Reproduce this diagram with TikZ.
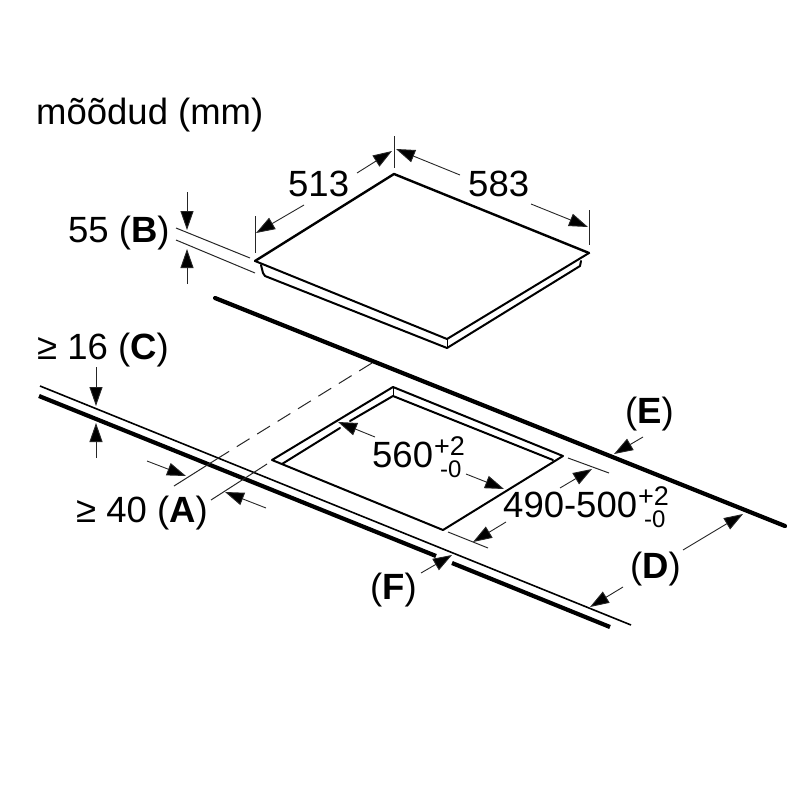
\documentclass[tikz,border=0pt]{standalone}
\usepackage{fontspec}
\setmainfont{Liberation Sans}
\usetikzlibrary{arrows.meta}
\tikzset{
 thin line/.style={line width=1pt,black!85},
 dim/.style={line width=0.9pt,black!85,-{Triangle[length=19pt,width=13pt,fill=black]}},
 edge line/.style={line width=2.4pt,line join=round,line cap=round},
 mid line/.style={line width=2pt,line join=round,line cap=round},
 heavy/.style={line width=4.2pt,line cap=round},
 lab/.style={inner sep=0pt,anchor=base west,font=\fontsize{36.5}{40}\selectfont},
 sup/.style={inner sep=0pt,anchor=base west,font=\fontsize{27}{30}\selectfont},
 subs/.style={inner sep=0pt,anchor=base west,font=\fontsize{24}{28}\selectfont},
}
\begin{document}
\begin{tikzpicture}[x=1pt,y=-1pt]
\useasboundingbox (0,0) rectangle (800,800);
% cooktop
\coordinate (ap) at (394,174);
\coordinate (lf) at (255,261);
\coordinate (rt) at (589,253);
\coordinate (fr) at (447,339);
\draw[edge line] (lf) -- (ap) -- (rt);
\draw[mid line] (lf) -- (fr) -- (rt);
\draw[mid line] (261,265) -- (263,273) -- (265,276) -- (447,348) -- (580,266) -- (581,261);
\draw[line width=1pt] (fr) -- (447,348);
% rear wall line
\draw[heavy] (215,298) -- (785,526);
% counter front
\draw[line width=1.6pt] (40,386) -- (631,625);
\draw[heavy,line cap=butt] (39,396) -- (436,556);
\draw[heavy,line cap=butt] (452,563) -- (610,627);
% cut-out
\draw[mid line] (272,460) -- (393,387) -- (563,456) -- (443,530) -- cycle;
\draw[mid line] (282,464) -- (340,428);
\draw[mid line] (350,421) -- (393,396) -- (553,460);
\draw[line width=1pt] (393,387) -- (393,396);
% centre lines
\draw[thin line,dashed,dash pattern=on 15pt off 9pt] (372,363) -- (220,457);
\draw[thin line] (220,457) -- (174,486);
\draw[thin line] (267,464) -- (211,500);
% extension lines
\draw[thin line] (176,228) -- (250,258);
\draw[thin line] (176,240) -- (255,273);
\draw[thin line] (255,216) -- (255,253);
\draw[thin line] (394,136) -- (394,168);
\draw[thin line] (589,210) -- (589,245);
\draw[thin line] (568,458) -- (609,473);
\draw[thin line] (448,532) -- (488,548);
% dimension arrows
\draw[dim] (187,192) -- (187,230);
\draw[dim] (187,284) -- (187,249);
\draw[dim] (304,205) -- (256,233);
\draw[dim] (357,173) -- (392,151);
\draw[dim] (460,175) -- (396,149);
\draw[dim] (531,204) -- (588,227);
\draw[dim] (96,367) -- (96,406);
\draw[dim] (96,458) -- (96,423);
\draw[dim] (147,461) -- (186,476);
\draw[dim] (266,508) -- (225,492);
\draw[dim] (375,437) -- (338,422);
\draw[dim] (466,474) -- (504,489);
\draw[dim] (560,488) -- (592,469);
\draw[dim] (506,522) -- (473,542);
\draw[dim] (643,437) -- (614,454);
\draw[dim] (683,550) -- (743,514);
\draw[dim] (623,587) -- (590,607);
\draw[dim] (421,573) -- (452,555);
% labels
\node[lab] (title) at (36,124) {mõõdud (mm)};
\node[lab] (l513) at (288,196) {513};
\node[lab] (l583) at (468,196) {583};
\node[lab] (lB) at (68,242) {55 (\textbf{B})};
\node[lab] (lC) at (37,359) {≥ 16 (\textbf{C})};
\node[lab] (lA) at (76,522) {≥ 40 (\textbf{A})};
\node[lab] (l560) at (372,467) {560};
\node[sup] (s560a) at (434,455) {+2};
\node[subs] (s560b) at (440,477) {-0};
\node[lab] (l490) at (503,517) {490-500};
\node[sup] (s490a) at (638,505) {+2};
\node[subs] (s490b) at (644,527) {-0};
\node[lab] (lE) at (625,423) {(\textbf{E})};
\node[lab] (lD) at (630,578) {(\textbf{D})};
\node[lab] (lF) at (370,599) {(\textbf{F})};
\end{tikzpicture}
\end{document}
